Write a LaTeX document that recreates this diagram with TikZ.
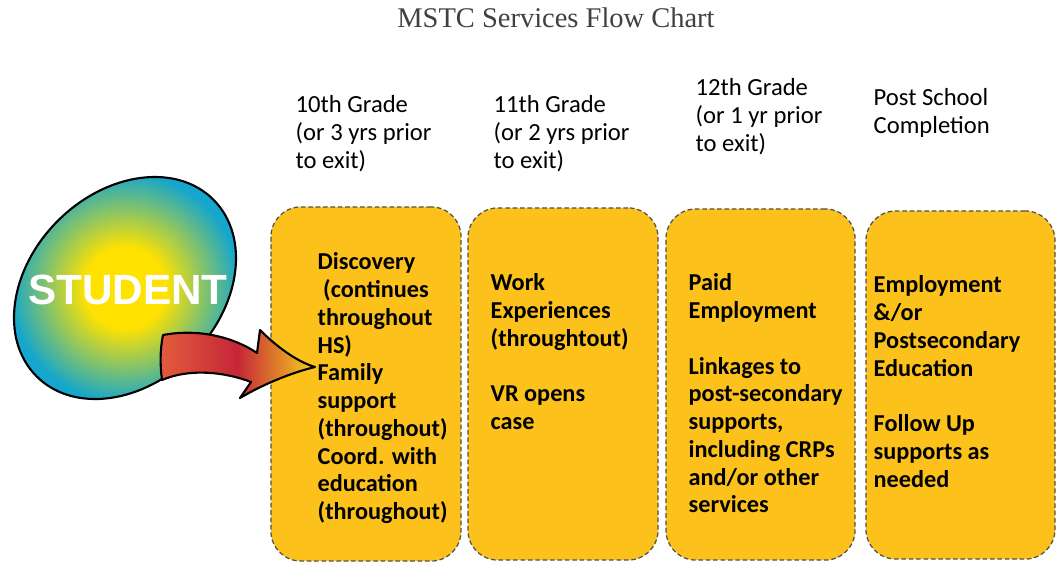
\documentclass[tikz,border=0pt]{standalone}
\usepackage{fontspec}
\setmainfont{Liberation Serif}
\setsansfont{Carlito}
\newfontfamily\arialfont{Liberation Sans}

\definecolor{boxfill}{RGB}{252,194,27}
\definecolor{boxline}{RGB}{80,80,80}
\definecolor{ballin}{RGB}{255,226,0}
\definecolor{ballout}{RGB}{20,166,204}
\definecolor{arrowa}{RGB}{226,92,60}
\definecolor{arrowb}{RGB}{198,38,56}
\definecolor{arrowc}{RGB}{246,210,30}
\definecolor{titlegray}{RGB}{64,64,64}
\pgfdeclareradialshading{ballshade}{\pgfpoint{0bp}{0bp}}{color(0bp)=(ballin); color(8bp)=(ballin); color(23bp)=(ballout); color(50bp)=(ballout)}

\begin{document}
\begin{tikzpicture}[x=0.01cm,y=-0.01cm,
	stage/.style={draw=boxline,line width=0.35pt,dash pattern=on 1.3pt off 0.8pt,fill=boxfill,rounded corners=0.3cm,inner sep=0pt},
	grade/.style={anchor=north west,inner sep=0pt,align=left,font=\sffamily\fontsize{7}{7.9}\selectfont},
	task/.style={anchor=north west,inner sep=0pt,align=left,font=\sffamily\bfseries\fontsize{6.9}{7.9}\selectfont}]
	\useasboundingbox (0,0) rectangle (1056,563);
	% title
		\node[text=titlegray,font=\fontsize{8.1}{10}\selectfont] (title) at (556,18) {MSTC Services Flow Chart};
	% grade headings
		\node[grade] (g10) at (295,95) {10th Grade\\(or 3 yrs prior\\to exit)};
		\node[grade] (g11) at (493,95) {11th Grade\\(or 2 yrs prior\\to exit)};
		\node[grade] (g12) at (695,78) {12th Grade\\(or 1 yr prior\\to exit)};
		\node[grade] (post) at (873,88) {Post School\\Completion};
	% stage boxes
		\node[stage,minimum width=1.90cm,minimum height=3.54cm] (box1) at (366,384) {};
		\node[stage,minimum width=1.90cm,minimum height=3.52cm] (box2) at (563,384) {};
		\node[stage,minimum width=1.89cm,minimum height=3.51cm] (box3) at (760.5,384.5) {};
		\node[stage,minimum width=1.89cm,minimum height=3.48cm] (box4) at (960.5,385) {};
	% box texts
		\node[task] (t1) at (317,252) {Discovery\\\ (continues\\throughout\\HS)\\Family\\support\\(throughout)\\Coord. with\\education\\(throughout)};
		\node[task] (t2) at (490,273) {Work\\Experiences\\(throughtout)\\[7.9pt]VR opens\\case};
		\node[task] (t3) at (688,273) {Paid\\Employment\\[7.9pt]Linkages to\\post-secondary\\supports,\\including CRPs\\and/or other\\services};
		\node[task] (t4) at (873,275) {Employment\\\&/or\\Postsecondary\\Education\\[7.9pt]Follow Up\\supports as\\needed};
	% student ball
		\shade[shading=ballshade,rotate around={45:(125,288)}] (125,288) ellipse (125 and 95);
		\draw[line width=0.6pt,rotate around={45:(125,288)}] (125,288) ellipse (125 and 95);
		\node[text=white,font=\arialfont\bfseries\fontsize{12}{13}\selectfont] (student) at (128,290) {STUDENT};
	% curved arrow into first box
		\shadedraw[left color=arrowa,right color=arrowc,middle color=arrowb,draw=black,line width=0.6pt,line join=round]
			(163,335) .. controls (200,328) and (235,338) .. (257,353) -- (260,330)
			.. controls (278,348) and (298,362) .. (315,367)
			.. controls (290,373) and (262,385) .. (240,398) -- (251,382)
			.. controls (225,372) and (190,368) .. (162,380)
			.. controls (160,365) and (160,350) .. (163,335) -- cycle;
\end{tikzpicture}
\end{document}
